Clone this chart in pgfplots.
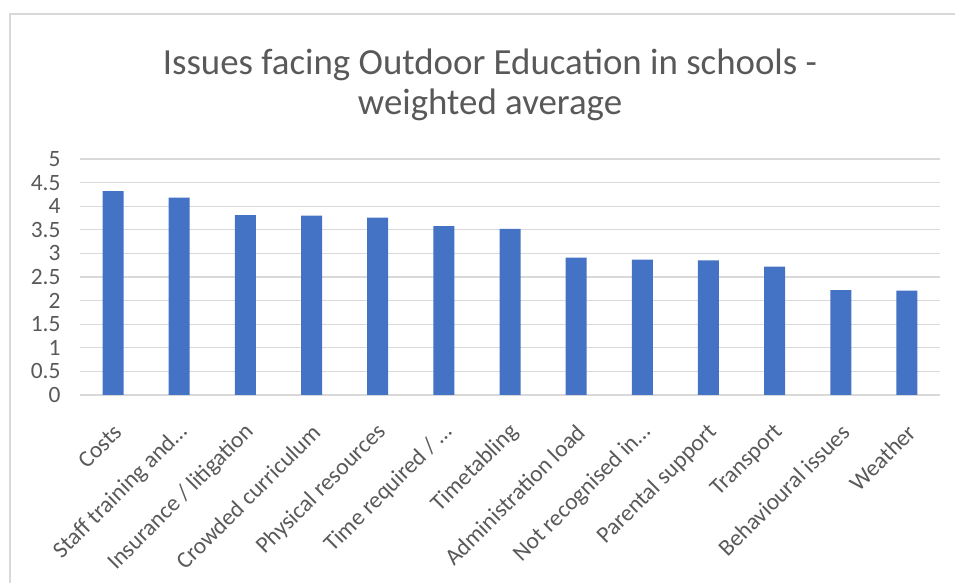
\documentclass[border=0pt]{standalone}
\usepackage{pgfplots}
\pgfplotsset{compat=1.18}
\usepackage{fontspec}
\setmainfont{Carlito}
\definecolor{barblue}{HTML}{4472C4}
\definecolor{txt}{HTML}{595959}
\definecolor{grd}{HTML}{D9D9D9}
\begin{document}
\begin{tikzpicture}[x=1bp,y=1bp]
\useasboundingbox (0,0) rectangle (955,583);
\draw[grd, line width=1.5bp] (10,-2) -- (10,569) -- (960,569);
\node[txt, align=center, font=\fontsize{37}{40}\selectfont] at (490,498) {Issues facing Outdoor Education in schools -\\weighted average};
\begin{axis}[
  at={(80bp,188bp)}, anchor=south west,
  scale only axis, width=860bp, height=236bp,
  ymin=0, ymax=5, ytick={0,0.5,...,5},
  xmin=-0.5, xmax=12.5,
  xtick={0,...,12},
  xticklabels={Costs,Staff training and…,Insurance / litigation,Crowded curriculum,Physical resources,Time required / …,Timetabling,Administration load,Not recognised in…,Parental support,Transport,Behavioural issues,Weather},
  ymajorgrids, grid style={grd, line width=1.2bp},
  axis line style={draw=none},
  major tick length=0pt,
  tick label style={txt, font=\fontsize{23.5}{28}\selectfont},
  /pgf/number format/assume math mode=true,
  yticklabel style={xshift=-16bp},
  xticklabel style={rotate=45, anchor=east, xshift=-17bp, yshift=-27bp},
  ybar, bar width=21bp,
]
\addplot[fill=barblue, draw=none] coordinates {
(0,4.32) (1,4.18) (2,3.81) (3,3.80) (4,3.76) (5,3.58) (6,3.52) (7,2.91) (8,2.87) (9,2.85) (10,2.72) (11,2.22) (12,2.21)};
\end{axis}
\end{tikzpicture}
\end{document}
